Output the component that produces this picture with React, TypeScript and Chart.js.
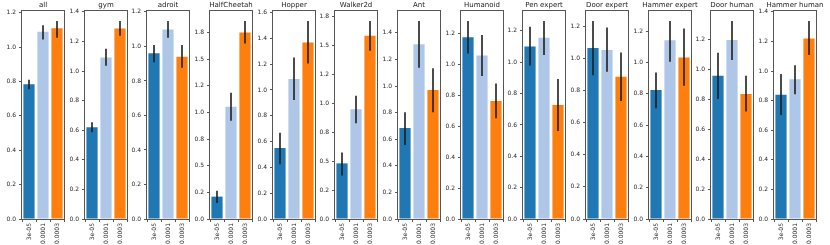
import React, { useEffect, useRef } from "react";
import { Chart, registerables } from "chart.js";

Chart.register(...registerables);

// ---------- data ----------
const panelTitles = [
  "all", "gym", "adroit", "HalfCheetah", "Hopper", "Walker2d", "Ant",
  "Humanoid", "Pen expert", "Door expert", "Hammer expert", "Door human", "Hammer human",
];
const lrLabels = ["3e-05", "0.0001", "0.0003"];
const lrColors = ["#1f77b4", "#aec7e8", "#ff7f0e"];

const mean3e5 = [0.785, 0.62, 0.96, 0.21, 0.55, 0.48, 0.685, 1.175, 1.10, 1.065, 0.824, 0.958, 0.84];
const lo3e5 = [0.755, 0.587, 0.909, 0.15, 0.425, 0.375, 0.557, 1.071, 0.98, 0.896, 0.707, 0.802, 0.703];
const hi3e5 = [0.81, 0.654, 1.008, 0.265, 0.669, 0.573, 0.803, 1.281, 1.226, 1.234, 0.936, 1.111, 0.98];

const mean1e4 = [1.09, 1.092, 1.098, 1.053, 1.084, 0.947, 1.315, 1.057, 1.156, 1.052, 1.142, 1.196, 0.944];
const lo1e4 = [1.045, 1.036, 1.05, 0.922, 0.922, 0.826, 1.137, 0.925, 1.046, 0.917, 1.004, 1.062, 0.843];
const hi1e4 = [1.128, 1.15, 1.148, 1.184, 1.252, 1.064, 1.49, 1.19, 1.264, 1.193, 1.265, 1.324, 1.04];

const mean3e4 = [1.11, 1.288, 0.94, 1.75, 1.368, 1.58, 0.97, 0.763, 0.727, 0.886, 1.032, 0.836, 1.22];
const lo3e4 = [1.055, 1.238, 0.876, 1.646, 1.205, 1.451, 0.803, 0.652, 0.562, 0.735, 0.851, 0.718, 1.108];
const hi3e4 = [1.153, 1.339, 1.008, 1.858, 1.535, 1.709, 1.133, 0.877, 0.893, 1.037, 1.217, 0.958, 1.339];

const yTickStep = [0.2, 0.2, 0.2, 0.25, 0.2, 0.25, 0.2, 0.2, 0.2, 0.2, 0.2, 0.2, 0.2];
const quarterTickLabels = ["0.0", "0.2", "0.5", "0.8", "1.0", "1.2", "1.5", "1.8"];

// ---------- layout ----------
const FIRST_LEFT = 22;
const PITCH = 62.67;
const PLOT_W = 42;
const YAXIS_W = 24;
const RIGHT_PAD = 24;
const TOP_PAD = 11;
const CANVAS_H = 245;
const XAXIS_H = 26;
const FONT = "'DejaVu Sans', sans-serif";

const framePlugin = {
  id: "frame",
  afterDraw(chart: any) {
    const { ctx, chartArea } = chart;
    ctx.save();
    ctx.strokeStyle = "#555";
    ctx.lineWidth = 1;
    const l = Math.round(chartArea.left) - 0.5;
    const t = Math.round(chartArea.top) - 0.5;
    const r = Math.round(chartArea.right) + 0.5;
    const b = Math.round(chartArea.bottom) + 0.5;
    ctx.strokeRect(l, t, r - l, b - t);
    ctx.restore();
  },
};

const panelTitlePlugin = {
  id: "panelTitle",
  afterDraw(chart: any, _args: any, opts: any) {
    const { ctx, chartArea } = chart;
    ctx.save();
    ctx.fillStyle = "#222";
    ctx.font = `7px ${FONT}`;
    ctx.textAlign = "center";
    ctx.textBaseline = "middle";
    ctx.fillText(opts.text, (chartArea.left + chartArea.right) / 2, 5.5);
    ctx.restore();
  },
};

const errPlugin = {
  id: "errbars",
  afterDatasetsDraw(chart: any, _args: any, opts: any) {
    const { ctx } = chart;
    const meta = chart.getDatasetMeta(0);
    const y = chart.scales.y;
    ctx.save();
    ctx.strokeStyle = "#1e1e1e";
    ctx.lineWidth = 1.6;
    meta.data.forEach((bar: any, k: number) => {
      const x = Math.round(bar.x);
      ctx.beginPath();
      ctx.moveTo(x, y.getPixelForValue(opts.lo[k]));
      ctx.lineTo(x, y.getPixelForValue(opts.hi[k]));
      ctx.stroke();
    });
    ctx.restore();
  },
};

function Panel({ i }: { i: number }) {
  const ref = useRef<HTMLCanvasElement | null>(null);
  useEffect(() => {
    if (!ref.current) return;
    const values = [mean3e5[i], mean1e4[i], mean3e4[i]];
    const lo = [lo3e5[i], lo1e4[i], lo3e4[i]];
    const hi = [hi3e5[i], hi1e4[i], hi3e4[i]];
    const yMax = Math.max(...hi) * 1.05;
    const step = yTickStep[i];
    const tickValues: number[] = [];
    for (let k = 0; k * step <= yMax + 1e-9; k++) tickValues.push(+(k * step).toFixed(4));

    const chart = new Chart(ref.current, {
      type: "bar",
      data: {
        labels: lrLabels,
        datasets: [
          {
            data: values,
            backgroundColor: lrColors,
            borderWidth: 0,
            barPercentage: 0.8,
            categoryPercentage: 1.0,
          },
        ],
      },
      options: {
        animation: false,
        responsive: false,
        devicePixelRatio: 1,
        layout: { padding: { left: 0, right: RIGHT_PAD, top: TOP_PAD, bottom: 0 } },
        plugins: {
          legend: { display: false },
          tooltip: { enabled: false },
          title: { display: false },
          panelTitle: { text: panelTitles[i] },
          errbars: { lo, hi },
        } as any,
        scales: {
          x: {
            type: "category",
            offset: true,
            grid: { display: true, drawOnChartArea: false, drawTicks: true, tickLength: 3, color: "#555" },
            border: { display: false },
            ticks: {
              color: "#262626",
              font: { family: FONT, size: 6 },
              maxRotation: 90,
              minRotation: 90,
              padding: 1,
              autoSkip: false,
            },
            afterFit(scale: any) {
              scale.height = XAXIS_H;
            },
          },
          y: {
            type: "linear",
            min: 0,
            max: yMax,
            grid: { display: true, drawOnChartArea: false, drawTicks: true, tickLength: 3, color: "#555" },
            border: { display: false },
            ticks: {
              color: "#262626",
              font: { family: FONT, size: 6 },
              padding: 3,
              callback: (v: any) => {
                const val = Number(v);
                if (step === 0.25) return quarterTickLabels[Math.round(val / step)];
                return val.toFixed(1);
              },
            },
            afterBuildTicks(scale: any) {
              scale.ticks = tickValues.map((v) => ({ value: v }));
            },
            afterFit(scale: any) {
              scale.width = YAXIS_W;
            },
          },
        },
      },
      plugins: [framePlugin, errPlugin, panelTitlePlugin],
    });
    return () => chart.destroy();
  }, [i]);

  const left = Math.round(FIRST_LEFT + i * PITCH) - YAXIS_W;
  const width = YAXIS_W + PLOT_W + RIGHT_PAD;
  return (
    <canvas
      ref={ref}
      width={width}
      height={CANVAS_H}
      style={{ position: "absolute", left, top: 0, width, height: CANVAS_H }}
    />
  );
}

export default function App() {
  return (
    <div style={{ position: "absolute", left: 0, top: 0, width: 830, height: 245, background: "#fff", overflow: "hidden" }}>
      {panelTitles.map((_, i) => (
        <Panel key={i} i={i} />
      ))}
    </div>
  );
}
